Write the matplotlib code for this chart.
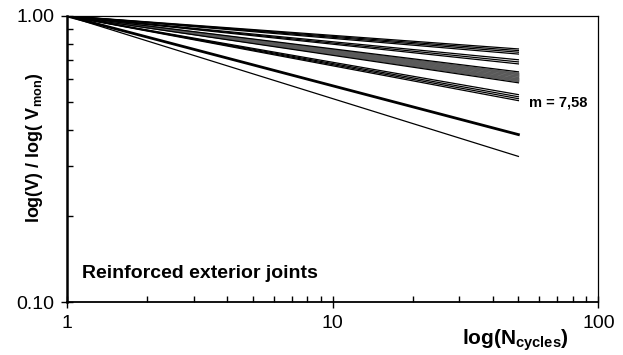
import matplotlib
matplotlib.use("Agg")
import matplotlib.pyplot as plt
from matplotlib.ticker import FixedLocator, FixedFormatter, NullFormatter, LogLocator

plt.rcParams['font.family'] = ['Liberation Sans', 'DejaVu Sans']
plt.rcParams['mathtext.fontset'] = 'custom'
plt.rcParams['mathtext.rm'] = 'Liberation Sans:bold'
plt.rcParams['mathtext.bf'] = 'Liberation Sans:bold'
plt.rcParams['mathtext.it'] = 'Liberation Sans:bold'

# Cycle range of every fitted line
n_start = 1
n_end = 50

# Normalised value at n_end for each joint (all start at 1.0)
ends_black = [0.767, 0.757, 0.747, 0.736, 0.703, 0.691, 0.680, 0.638,
              0.584, 0.531, 0.522, 0.514, 0.506]
ends_gray = [0.630, 0.624, 0.617, 0.610, 0.603, 0.597, 0.591]
ends_thick = [0.385]
ends_thin = [0.323]

fig = plt.figure(figsize=(6.23, 3.55), dpi=100)
ax = fig.add_axes([0.1075, 0.149, 0.853, 0.806])

for e in ends_gray:
    ax.plot([n_start, n_end], [1.0, e], color="#5a5a5a", lw=1.3)
for e in ends_black:
    ax.plot([n_start, n_end], [1.0, e], color="black", lw=0.9)
for e in ends_thick:
    ax.plot([n_start, n_end], [1.0, e], color="black", lw=2.0)
for e in ends_thin:
    ax.plot([n_start, n_end], [1.0, e], color="black", lw=0.9)

ax.set_xscale("log")
ax.set_yscale("log")
ax.set_xlim(1, 100)
ax.set_ylim(0.1, 1.0)

ax.yaxis.set_major_locator(FixedLocator([0.1, 1.0]))
ax.yaxis.set_major_formatter(FixedFormatter(["0.10", "1.00"]))
ax.yaxis.set_minor_locator(LogLocator(base=10, subs=range(2, 10)))
ax.yaxis.set_minor_formatter(NullFormatter())
ax.xaxis.set_major_locator(FixedLocator([1, 10, 100]))
ax.xaxis.set_major_formatter(FixedFormatter(["1", "10", "100"]))
ax.xaxis.set_minor_locator(LogLocator(base=10, subs=range(2, 10)))
ax.xaxis.set_minor_formatter(NullFormatter())

ax.tick_params(axis="both", which="major", direction="inout", length=8,
               width=1.0, labelsize=14, pad=5)
ax.tick_params(axis="both", which="minor", direction="in", length=4, width=1.0)

ax.spines["left"].set_linewidth(1.8)
ax.spines["bottom"].set_linewidth(1.3)
ax.spines["top"].set_linewidth(0.9)
ax.spines["right"].set_linewidth(0.9)

ax.set_ylabel(r"log(V) / log( V$_{mon}$)", fontsize=13, fontweight="bold")
ax.yaxis.set_label_coords(-0.041, 0.538)
ax.text(0.844, -0.135, r"log(N$_{cycles}$)", transform=ax.transAxes,
        ha="center", va="center", fontsize=15, fontweight="bold")
ax.text(0.028, 0.1, "Reinforced exterior joints", transform=ax.transAxes,
        ha="left", va="center", fontsize=14, fontweight="bold")
ax.text(0.87, 0.697, "m = 7,58", transform=ax.transAxes,
        ha="left", va="center", fontsize=10.5, fontweight="bold")

fig.savefig("out.png", dpi=100)
